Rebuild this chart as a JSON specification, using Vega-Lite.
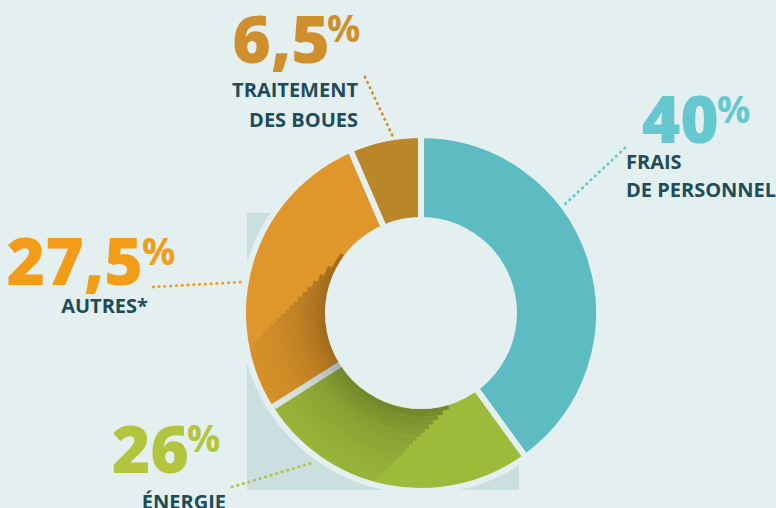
{
  "$schema": "https://vega.github.io/schema/vega-lite/v6.json",
  "width": 776,
  "height": 508,
  "autosize": "none",
  "padding": 0,
  "background": "#e4f0f0",
  "config": {"view": {"stroke": null}},
  "datasets": {
    "shares": [
      {"poste": "Frais de personnel", "part": 40, "ordre": 1},
      {"poste": "Énergie", "part": 26, "ordre": 2},
      {"poste": "Autres*", "part": 27.5, "ordre": 3},
      {"poste": "Traitement des boues", "part": 6.5, "ordre": 4}
    ],
    "backdrop": [{"x": 247, "x2": 519, "y": 213, "y2": 490}],
    "shadow": [
      {"r1": 96, "r2": 100, "t1": 163.6, "t2": 306.8, "op": 0.27},
      {"r1": 100, "r2": 104, "t1": 167.5, "t2": 297.0, "op": 0.25},
      {"r1": 104, "r2": 108, "t1": 170.8, "t2": 291.2, "op": 0.22},
      {"r1": 108, "r2": 112, "t1": 173.6, "t2": 286.9, "op": 0.20},
      {"r1": 112, "r2": 116, "t1": 176.0, "t2": 283.3, "op": 0.18},
      {"r1": 116, "r2": 120, "t1": 178.2, "t2": 280.3, "op": 0.16},
      {"r1": 120, "r2": 124, "t1": 180.2, "t2": 277.7, "op": 0.15},
      {"r1": 124, "r2": 128, "t1": 182.0, "t2": 275.3, "op": 0.13},
      {"r1": 128, "r2": 132, "t1": 183.6, "t2": 273.3, "op": 0.12},
      {"r1": 132, "r2": 136, "t1": 185.1, "t2": 271.4, "op": 0.11},
      {"r1": 136, "r2": 140, "t1": 186.5, "t2": 269.7, "op": 0.10},
      {"r1": 140, "r2": 144, "t1": 187.7, "t2": 268.1, "op": 0.09},
      {"r1": 144, "r2": 148, "t1": 188.9, "t2": 266.6, "op": 0.08},
      {"r1": 148, "r2": 152, "t1": 190.0, "t2": 265.3, "op": 0.07},
      {"r1": 152, "r2": 156, "t1": 191.1, "t2": 264.0, "op": 0.063},
      {"r1": 156, "r2": 160, "t1": 192.0, "t2": 262.9, "op": 0.057},
      {"r1": 160, "r2": 164, "t1": 192.9, "t2": 261.8, "op": 0.051},
      {"r1": 164, "r2": 168, "t1": 193.8, "t2": 260.8, "op": 0.046},
      {"r1": 168, "r2": 172, "t1": 194.6, "t2": 259.8, "op": 0.041},
      {"r1": 172, "r2": 175, "t1": 195.4, "t2": 258.9, "op": 0.037}
    ],
    "leaders": [
      {"poste": "Traitement des boues", "x": 365, "y": 77, "x2": 393, "y2": 137},
      {"poste": "Frais de personnel", "x": 625, "y": 148, "x2": 562, "y2": 207},
      {"poste": "Autres*", "x": 153, "y": 287, "x2": 242, "y2": 282},
      {"poste": "Énergie", "x": 232, "y": 487, "x2": 315, "y2": 462}
    ],
    "numbers": [
      {"poste": "Traitement des boues", "texte": "6,5", "x": 330, "y": 63, "px": 327, "py": 42},
      {"poste": "Frais de personnel", "texte": "40", "x": 719, "y": 143, "px": 717, "py": 123},
      {"poste": "Autres*", "texte": "27,5", "x": 143, "y": 285, "px": 142, "py": 265},
      {"poste": "Énergie", "texte": "26", "x": 189, "y": 473, "px": 187, "py": 452}
    ],
    "labels": [
      {"poste": "Traitement des boues", "texte": "TRAITEMENT", "x": 358, "y": 97},
      {"poste": "Traitement des boues", "texte": "DES BOUES", "x": 358, "y": 127},
      {"poste": "Frais de personnel", "texte": "FRAIS", "x": 626, "y": 169},
      {"poste": "Frais de personnel", "texte": "DE PERSONNEL", "x": 626, "y": 197},
      {"poste": "Autres*", "texte": "AUTRES*", "x": 148, "y": 313},
      {"poste": "Énergie", "texte": "ÉNERGIE", "x": 226, "y": 509}
    ]
  },
  "layer": [
    {
      "data": {"name": "backdrop"},
      "mark": {"type": "rect", "fill": "#cbdfe1"},
      "encoding": {
        "x": {"field": "x", "type": "quantitative", "scale": {"domain": [0, 776]}, "axis": null},
        "x2": {"field": "x2"},
        "y": {"field": "y", "type": "quantitative", "scale": {"domain": [0, 508], "reverse": true}, "axis": null},
        "y2": {"field": "y2"}
      }
    },
    {
      "data": {"name": "shares"},
      "mark": {"type": "arc", "outerRadius": 178, "innerRadius": 90, "stroke": "#e4f0f0", "strokeWidth": 6},
      "encoding": {
        "theta": {"field": "part", "type": "quantitative", "stack": true},
        "order": {"field": "ordre", "type": "quantitative"},
        "color": {
          "field": "poste", "type": "nominal", "legend": null,
          "scale": {"domain": ["Frais de personnel", "Énergie", "Autres*", "Traitement des boues"], "range": ["#5dbcc2", "#9eba3b", "#df962a", "#bb8529"]}
        },
        "x": {"datum": 421, "type": "quantitative", "scale": {"domain": [0, 776]}, "axis": null},
        "y": {"datum": 313, "type": "quantitative", "scale": {"domain": [0, 508], "reverse": true}, "axis": null}
      }
    },
    {
      "data": {"name": "shadow"},
      "mark": {"type": "arc", "fill": "#000000"},
      "encoding": {
        "theta": {"field": "t1", "type": "quantitative", "stack": null, "scale": {"domain": [0, 360], "range": [0, 6.283185307]}},
        "theta2": {"field": "t2"},
        "radius": {"field": "r2", "type": "quantitative", "scale": null},
        "radius2": {"field": "r1"},
        "opacity": {"field": "op", "type": "quantitative", "scale": null, "legend": null},
        "x": {"datum": 421, "type": "quantitative", "scale": {"domain": [0, 776]}, "axis": null},
        "y": {"datum": 313, "type": "quantitative", "scale": {"domain": [0, 508], "reverse": true}, "axis": null}
      }
    },
    {
      "data": {"values": [{}]},
      "mark": {"type": "arc", "outerRadius": 96, "innerRadius": 0, "theta": 0, "theta2": 6.2832, "fill": "#e4f0f0"},
      "encoding": {
        "x": {"datum": 421, "type": "quantitative", "scale": {"domain": [0, 776]}, "axis": null},
        "y": {"datum": 313, "type": "quantitative", "scale": {"domain": [0, 508], "reverse": true}, "axis": null}
      }
    },
    {
      "data": {"name": "leaders"},
      "mark": {"type": "rule", "strokeWidth": 2.8, "strokeDash": [0.5, 5.3], "strokeCap": "round"},
      "encoding": {
        "x": {"field": "x", "type": "quantitative", "scale": {"domain": [0, 776]}, "axis": null},
        "x2": {"field": "x2"},
        "y": {"field": "y", "type": "quantitative", "scale": {"domain": [0, 508], "reverse": true}, "axis": null},
        "y2": {"field": "y2"},
        "color": {
          "field": "poste", "type": "nominal", "legend": null,
          "scale": {"domain": ["Frais de personnel", "Énergie", "Autres*", "Traitement des boues"], "range": ["#5fc6ce", "#b3c43f", "#f39c17", "#d08f2d"]}
        }
      }
    },
    {
      "data": {"name": "labels"},
      "transform": [{"filter": "datum.poste !== 'Frais de personnel'"}],
      "mark": {"type": "text", "align": "right", "baseline": "alphabetic", "font": "Open Sans", "fontWeight": "bold", "fontSize": 20, "fill": "#1e4c59"},
      "encoding": {
        "x": {"field": "x", "type": "quantitative", "scale": {"domain": [0, 776]}, "axis": null},
        "y": {"field": "y", "type": "quantitative", "scale": {"domain": [0, 508], "reverse": true}, "axis": null},
        "text": {"field": "texte"}
      }
    },
    {
      "data": {"name": "labels"},
      "transform": [{"filter": "datum.poste === 'Frais de personnel'"}],
      "mark": {"type": "text", "align": "left", "baseline": "alphabetic", "font": "Open Sans", "fontWeight": "bold", "fontSize": 20, "fill": "#1e4c59"},
      "encoding": {
        "x": {"field": "x", "type": "quantitative", "scale": {"domain": [0, 776]}, "axis": null},
        "y": {"field": "y", "type": "quantitative", "scale": {"domain": [0, 508], "reverse": true}, "axis": null},
        "text": {"field": "texte"}
      }
    },
    {
      "data": {"name": "numbers"},
      "mark": {"type": "text", "align": "right", "baseline": "alphabetic", "font": "Open Sans", "fontWeight": 800, "fontSize": 66},
      "encoding": {
        "x": {"field": "x", "type": "quantitative", "scale": {"domain": [0, 776]}, "axis": null},
        "y": {"field": "y", "type": "quantitative", "scale": {"domain": [0, 508], "reverse": true}, "axis": null},
        "text": {"field": "texte"},
        "color": {
          "field": "poste", "type": "nominal", "legend": null,
          "scale": {"domain": ["Frais de personnel", "Énergie", "Autres*", "Traitement des boues"], "range": ["#66c8cf", "#b3c43f", "#f39c17", "#d08f2d"]}
        }
      }
    },
    {
      "data": {"name": "numbers"},
      "mark": {"type": "text", "align": "left", "baseline": "alphabetic", "font": "Open Sans", "fontWeight": "bold", "fontSize": 37, "text": "%"},
      "encoding": {
        "x": {"field": "px", "type": "quantitative", "scale": {"domain": [0, 776]}, "axis": null},
        "y": {"field": "py", "type": "quantitative", "scale": {"domain": [0, 508], "reverse": true}, "axis": null},
        "color": {
          "field": "poste", "type": "nominal", "legend": null,
          "scale": {"domain": ["Frais de personnel", "Énergie", "Autres*", "Traitement des boues"], "range": ["#66c8cf", "#b3c43f", "#f39c17", "#d08f2d"]}
        }
      }
    }
  ],
  "resolve": {"scale": {"theta": "independent", "color": "independent", "radius": "independent", "opacity": "independent"}}
}
